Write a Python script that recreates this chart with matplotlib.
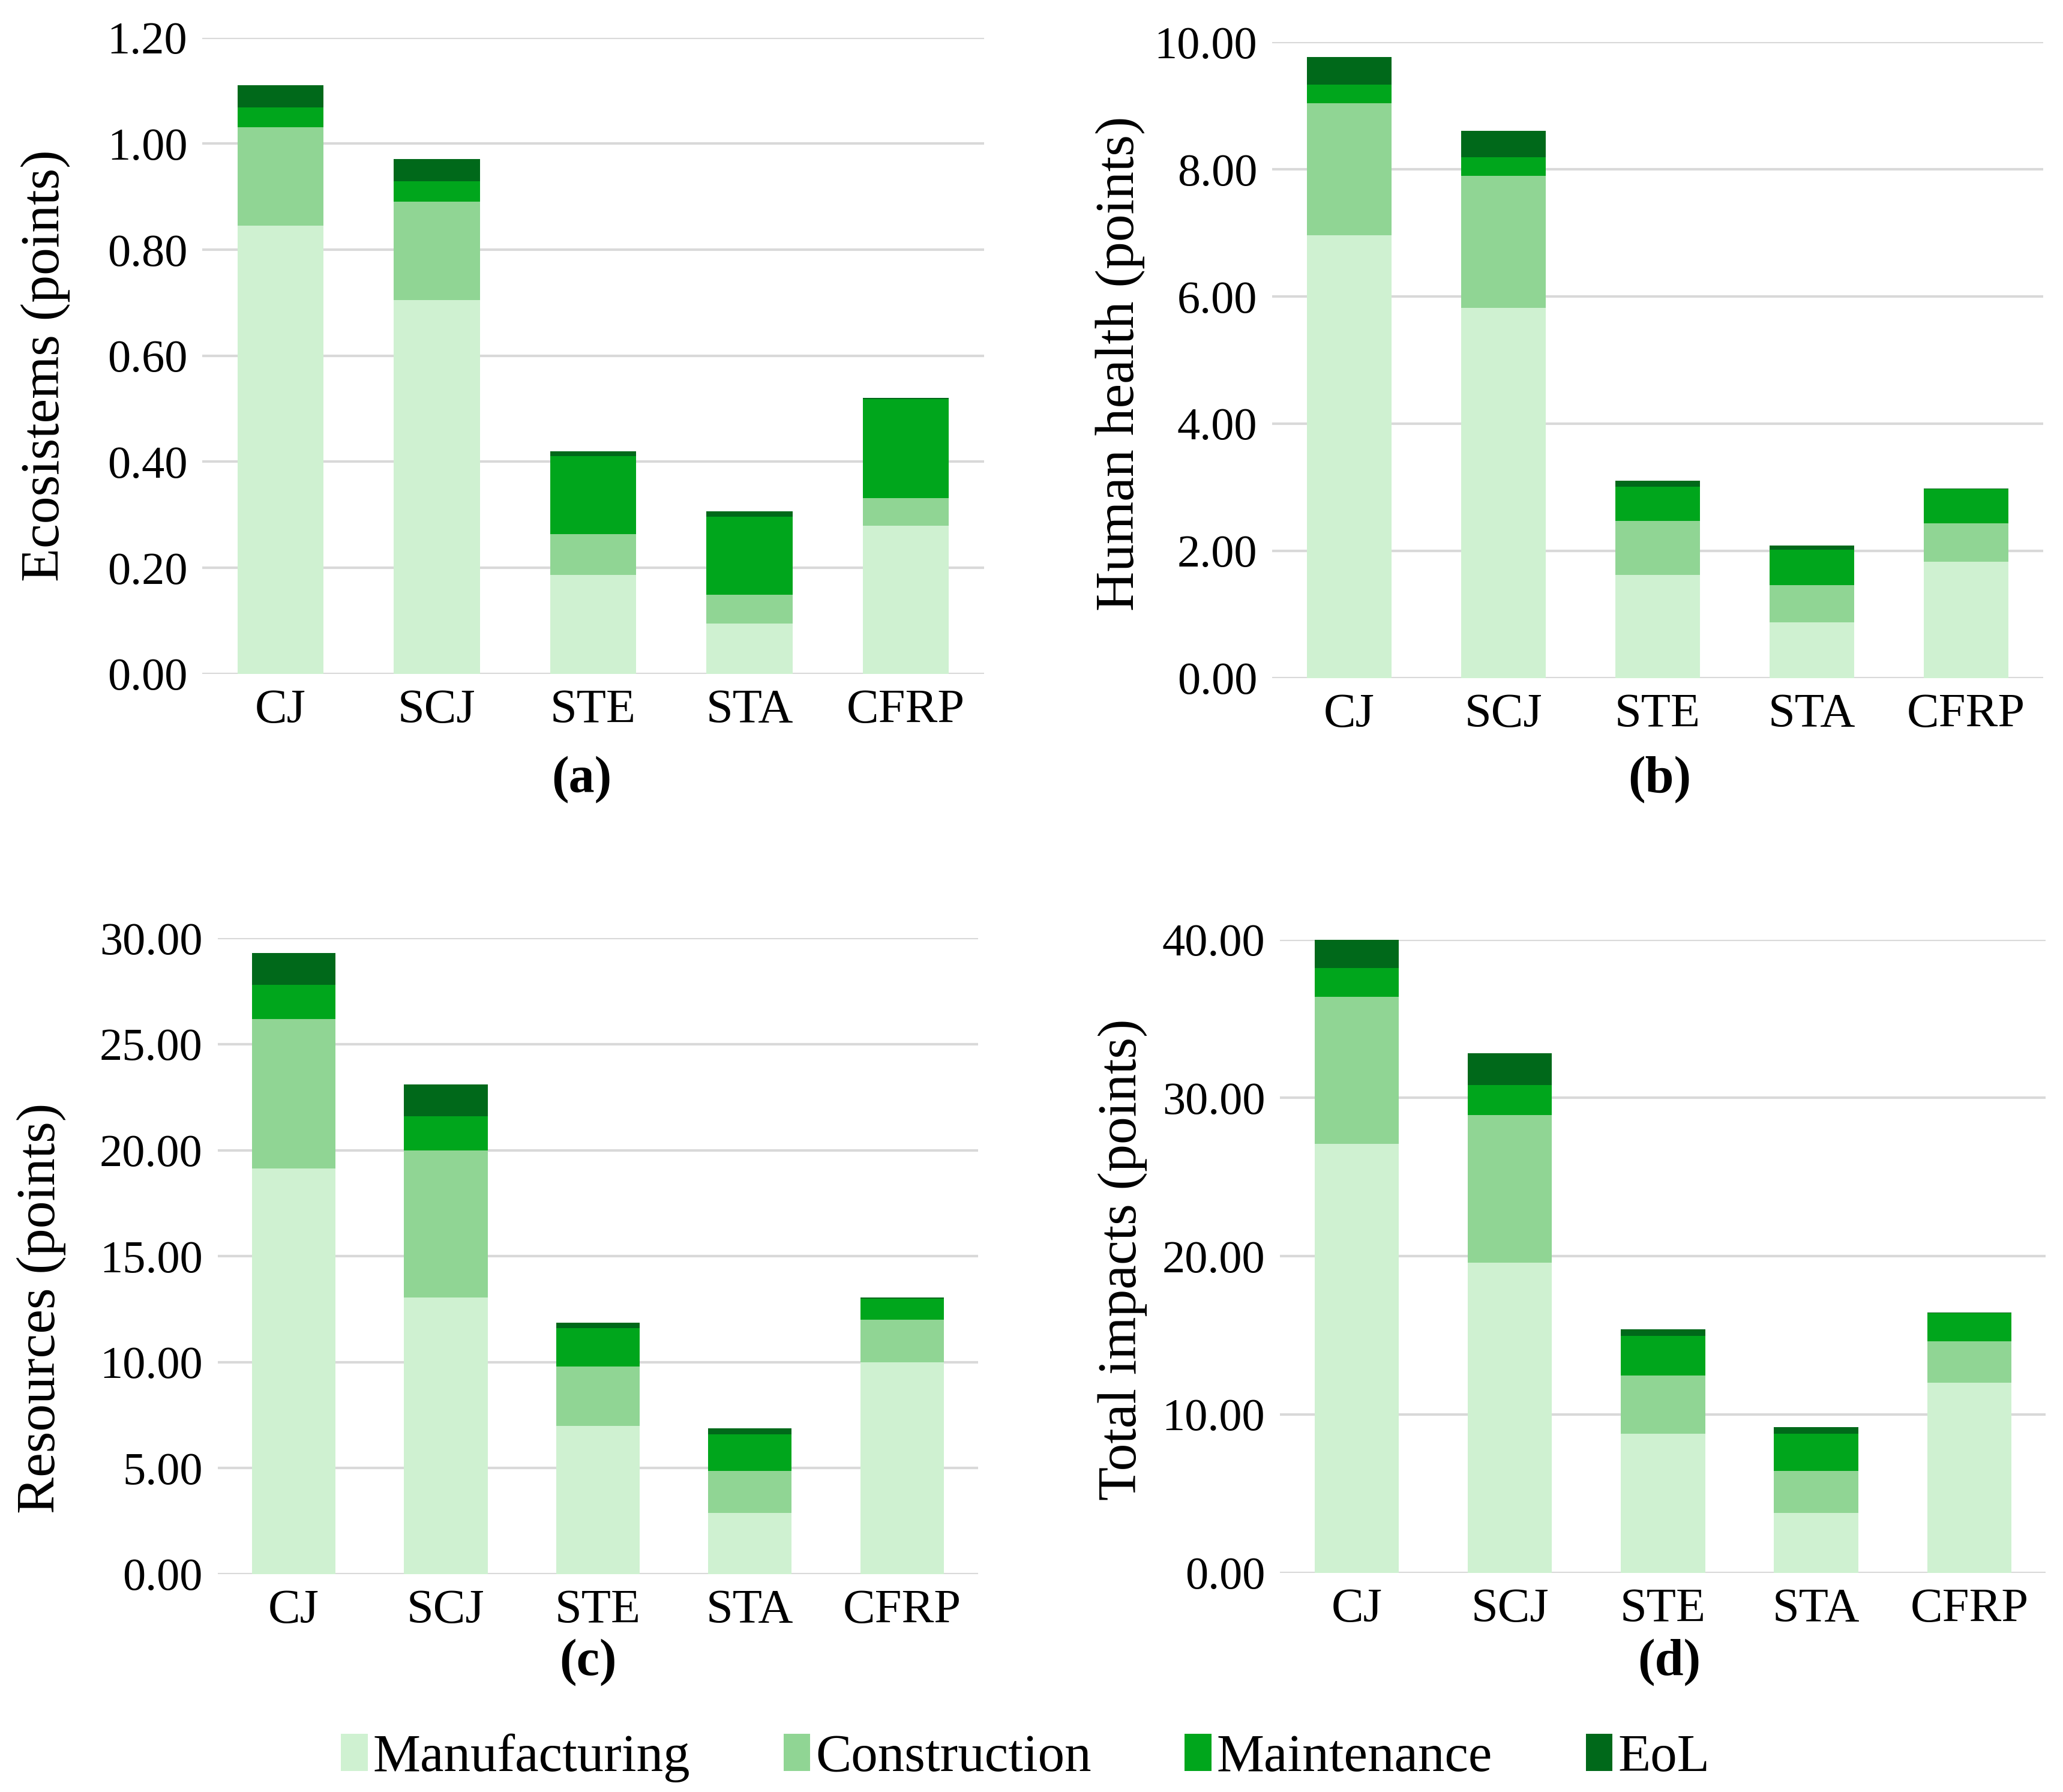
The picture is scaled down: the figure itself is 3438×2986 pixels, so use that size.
import numpy as np
import matplotlib
matplotlib.use("Agg")
import matplotlib.pyplot as plt
from matplotlib.patches import Patch

# ==========================================
# DATA
# ==========================================
categories = ["CJ", "SCJ", "STE", "STA", "CFRP"]
stages = ["Manufacturing", "Construction", "Maintenance", "EoL"]
colors = ["#cff1d1", "#90d594", "#00a61c", "#00691a"]

# (a) Ecosistems
eco_manuf = [0.845, 0.705, 0.187, 0.095, 0.279]
eco_constr = [0.186, 0.186, 0.077, 0.054, 0.052]
eco_maint = [0.037, 0.038, 0.147, 0.147, 0.187]
eco_eol = [0.042, 0.042, 0.009, 0.010, 0.002]

# (b) Human health
hh_manuf = [6.96, 5.82, 1.62, 0.87, 1.83]
hh_constr = [2.08, 2.08, 0.85, 0.59, 0.60]
hh_maint = [0.29, 0.29, 0.54, 0.56, 0.54]
hh_eol = [0.44, 0.42, 0.09, 0.06, 0.01]

# (c) Resources
res_manuf = [19.15, 13.04, 6.99, 2.87, 9.98]
res_constr = [7.05, 6.96, 2.81, 2.00, 2.02]
res_maint = [1.60, 1.60, 1.80, 1.73, 0.98]
res_eol = [1.50, 1.50, 0.25, 0.26, 0.06]

# (d) Total impacts
tot_manuf = [27.1, 19.6, 8.77, 3.76, 12.0]
tot_constr = [9.3, 9.3, 3.70, 2.67, 2.6]
tot_maint = [1.8, 1.9, 2.50, 2.34, 1.8]
tot_eol = [1.8, 2.0, 0.40, 0.43, 0.05]

panels = [
    ("Ecosistems (points)", [eco_manuf, eco_constr, eco_maint, eco_eol], 1.2, 0.2, "(a)"),
    ("Human health (points)", [hh_manuf, hh_constr, hh_maint, hh_eol], 10.0, 2.0, "(b)"),
    ("Resources (points)", [res_manuf, res_constr, res_maint, res_eol], 30.0, 5.0, "(c)"),
    ("Total impacts (points)", [tot_manuf, tot_constr, tot_maint, tot_eol], 40.0, 10.0, "(d)"),
]

# axes rectangles [left, bottom, width, height] in figure fraction
rects = [
    [0.0981, 0.624, 0.3788, 0.355],
    [0.6167, 0.6217, 0.3737, 0.3547],
    [0.1055, 0.1217, 0.3686, 0.3547],
    [0.6205, 0.1224, 0.3712, 0.3533],
]
# y-label anchor (right edge of the rotated text, vertical centre) in figure fraction
ylabel_pos = [(0.034, 0.796), (0.555, 0.797), (0.032, 0.270), (0.556, 0.297)]
letter_pos = [(0.282, 0.565), (0.8045, 0.565), (0.285, 0.0723), (0.809, 0.0723)]

plt.rcParams["font.family"] = ["Liberation Serif", "DejaVu Serif"]
FS = 56

fig = plt.figure(figsize=(34.38, 29.86), dpi=100)

x = np.arange(len(categories))

for i, (ylabel, series, ymax, step, letter) in enumerate(panels):
    ax = fig.add_axes(rects[i])
    bottom = np.zeros(len(categories))
    for vals, col in zip(series, colors):
        ax.bar(x, vals, width=0.55, bottom=bottom, color=col, zorder=3)
        bottom = bottom + np.array(vals)

    ax.set_xlim(-0.5, len(categories) - 0.5)
    ax.set_ylim(0, ymax)
    ax.set_yticks(np.arange(0, ymax + step / 2, step))
    ax.yaxis.set_major_formatter(matplotlib.ticker.FormatStrFormatter("%.2f"))
    ax.set_xticks(x)
    ax.set_xticklabels(categories)
    ax.grid(axis="y", color="#d9d9d9", linewidth=3, zorder=0)
    for s in ax.spines.values():
        s.set_visible(False)
    ax.tick_params(axis="both", length=0, pad=18)
    ax.tick_params(axis="x", labelsize=FS + 2)
    ax.tick_params(axis="y", labelsize=FS - 1)
    ax.set_ylabel(ylabel, fontsize=FS + 10)
    ax.yaxis.set_label_coords(ylabel_pos[i][0], ylabel_pos[i][1],
                              transform=fig.transFigure)
    fig.text(letter_pos[i][0], letter_pos[i][1], letter, fontsize=FS + 6,
             fontweight="bold", ha="center", va="center")

handles = [Patch(facecolor=c, edgecolor="none") for c in colors]
fig.legend(handles, stages, loc="center", bbox_to_anchor=(0.497, 0.019), ncol=4,
           frameon=False, fontsize=FS + 8, handlelength=0.5, handleheight=0.7,
           handletextpad=0.1, columnspacing=1.75)

fig.savefig("out.png", dpi=100, facecolor="white")
